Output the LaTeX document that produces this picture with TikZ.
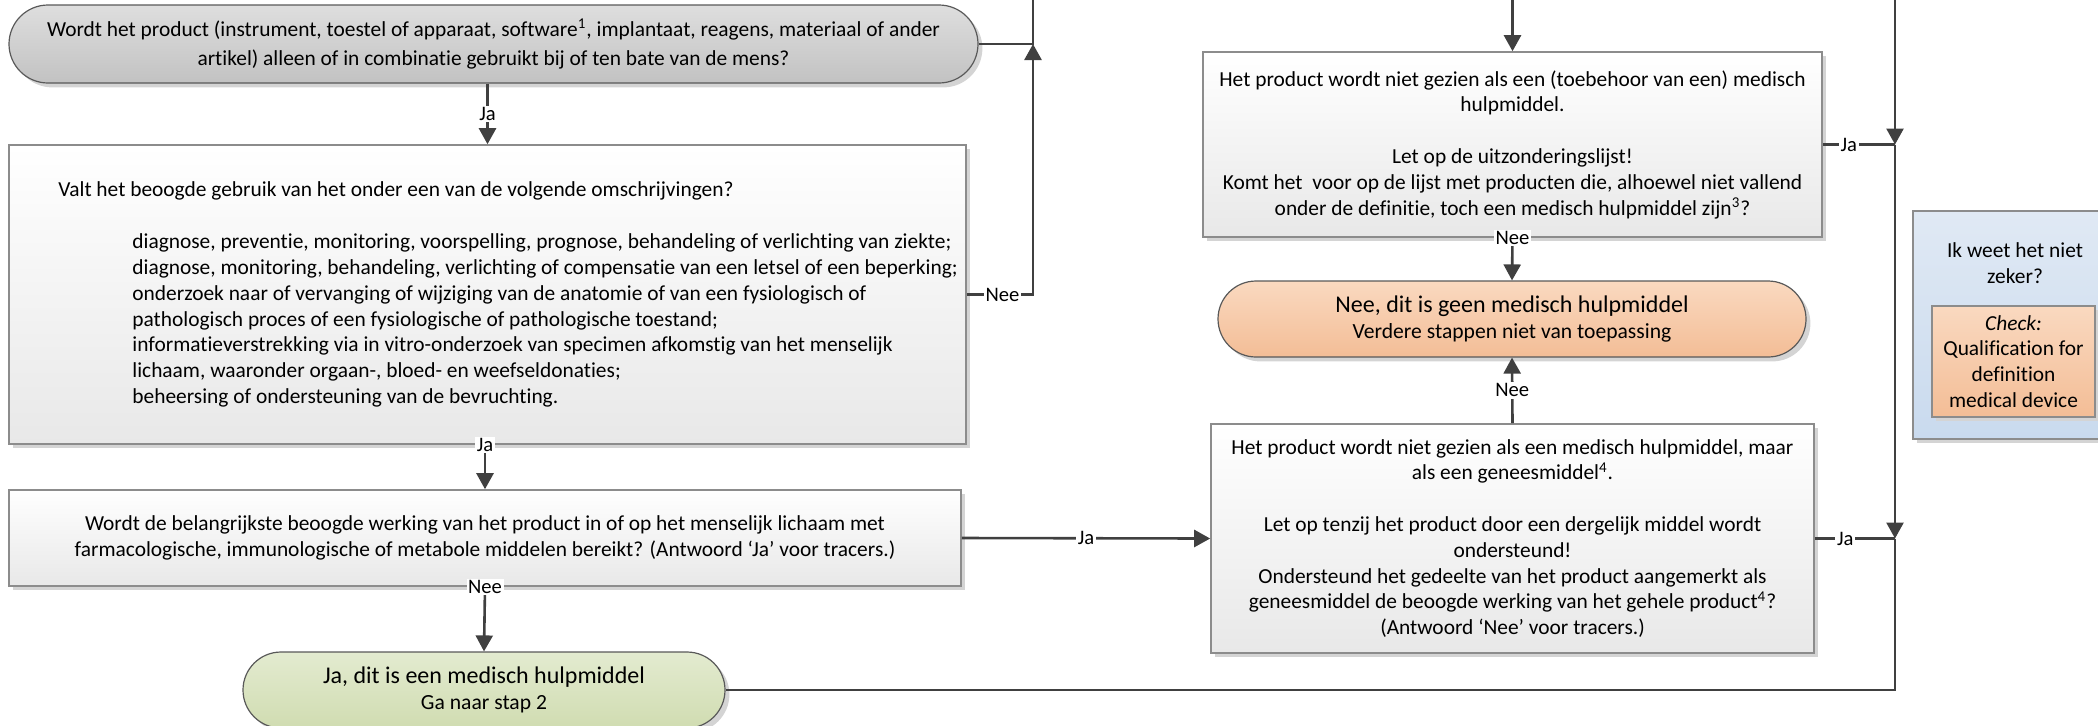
\documentclass[tikz,border=0pt]{standalone}
\usepackage{fontspec}
\setmainfont{Carlito}[Ligatures=NoCommon]
\usetikzlibrary{arrows.meta,shadows}
\definecolor{linec}{HTML}{404040}
\definecolor{boxline}{HTML}{8C8C8C}
\definecolor{termline}{HTML}{595959}
\definecolor{graytop}{HTML}{DEDEDE}
\definecolor{graybot}{HTML}{C2C2C2}
\definecolor{orgtop}{HTML}{FAD9C0}
\definecolor{orgbot}{HTML}{F3BD96}
\definecolor{grntop}{HTML}{E3EBD0}
\definecolor{grnbot}{HTML}{D0DCB1}
\definecolor{blutop}{HTML}{E0E9F4}
\definecolor{blubot}{HTML}{C9DAEE}
\definecolor{shadowc}{HTML}{D4D4D4}
\newcommand\bodyfont{\fontsize{10.7}{12.9}\selectfont}
\newcommand\subfont{\fontsize{10.8}{13}\selectfont}
\newcommand\bigfont{\fontsize{12}{14}\selectfont}
\newcommand\lblfont{\fontsize{10.3}{12}\selectfont}
\begin{document}
\begin{tikzpicture}[x=0.5pt,y=-0.5pt,
  shad/.style={drop shadow={shadow xshift=2.2pt,shadow yshift=-2.2pt,fill=shadowc,opacity=1}},
  qbox/.style={shad,draw=boxline,line width=0.8pt,top color=white,bottom color=black!9,
    align=center,inner sep=0pt,font=\bodyfont},
  term/.style={shad,draw=termline,line width=0.6pt,align=center,inner sep=0pt,
    minimum height=38pt,rounded corners=19pt},
  conn/.style={draw=linec,line width=1.3pt},
  arr/.style={-{Triangle[length=8pt,width=8.5pt]}},
  lbl/.style={fill=white,inner sep=0.8pt,text=black,font=\lblfont},
]
\useasboundingbox (0,0) rectangle (2098,725);
\clip (0,0) rectangle (2098,725);

% ---------------- nodes ----------------
\node[term,top color=graytop,bottom color=graybot,minimum width=484.5pt,minimum height=39pt,
  rounded corners=19.5pt,font=\fontsize{10.7}{14.2}\selectfont] (q1) at (493.5,44)
  {Wordt het product (instrument, toestel of apparaat, software\textsuperscript{1}, implantaat, reagens, materiaal of ander\\
   artikel) alleen of in combinatie gebruikt bij of ten bate van de mens?};

\node[qbox,minimum width=478.5pt,minimum height=149.5pt] (q2) at (487.5,294.5) {};
\node[anchor=west,align=left,inner sep=0pt,font=\bodyfont] (q2text) at (58,294.5)
  {Valt het beoogde gebruik van het onder een van de volgende omschrijvingen?\\[13pt]
   \hspace*{37pt}diagnose, preventie, monitoring, voorspelling, prognose, behandeling of verlichting van ziekte;\\
   \hspace*{37pt}diagnose, monitoring, behandeling, verlichting of compensatie van een letsel of een beperking;\\
   \hspace*{37pt}onderzoek naar of vervanging of wijziging van de anatomie of van een fysiologisch of\\
   \hspace*{37pt}pathologisch proces of een fysiologische of pathologische toestand;\\
   \hspace*{37pt}informatieverstrekking via in vitro-onderzoek van specimen afkomstig van het menselijk\\
   \hspace*{37pt}lichaam, waaronder orgaan-, bloed- en weefseldonaties;\\
   \hspace*{37pt}beheersing of ondersteuning van de bevruchting.};

\node[qbox,minimum width=476pt,minimum height=48pt] (q3) at (485,538)
  {Wordt de belangrijkste beoogde werking van het product in of op het menselijk lichaam met\\
   farmacologische, immunologische of metabole middelen bereikt? (Antwoord ‘Ja’ voor tracers.)};

\node[term,top color=grntop,bottom color=grnbot,minimum width=241pt] (ja) at (484,690)
  {{\bigfont Ja, dit is een medisch hulpmiddel}\\[1pt]{\subfont Ga naar stap 2}};

\node[qbox,minimum width=309.5pt,minimum height=92.5pt] (q4) at (1512.5,144.5)
  {Het product wordt niet gezien als een (toebehoor van een) medisch\\
   hulpmiddel.\\[12.9pt]
   Let op de uitzonderingslijst!\\
   Komt het\ \ voor op de lijst met producten die, alhoewel niet vallend\\
   onder de definitie, toch een medisch hulpmiddel zijn\textsuperscript{3}?};

\node[term,top color=orgtop,bottom color=orgbot,minimum width=294pt] (nee) at (1512,319)
  {{\bigfont Nee, dit is geen medisch hulpmiddel}\\[1pt]{\subfont Verdere stappen niet van toepassing}};

\node[qbox,minimum width=301.5pt,minimum height=114.5pt] (q5) at (1512.5,538.5)
  {Het product wordt niet gezien als een medisch hulpmiddel, maar\\
   als een geneesmiddel\textsuperscript{4}.\\[12.9pt]
   Let op tenzij het product door een dergelijk middel wordt\\
   ondersteund!\\
   Ondersteund het gedeelte van het product aangemerkt als\\
   geneesmiddel de beoogde werking van het gehele product\textsuperscript{4}?\\
   (Antwoord ‘Nee’ voor tracers.)};

\node[shad,draw=boxline,line width=0.8pt,top color=blutop,bottom color=blubot,
  minimum width=104pt,minimum height=114pt,inner sep=0pt] (info) at (2017,325) {};
\node[align=center,inner sep=0pt,font=\bodyfont] (infotext) at (2015,263)
  {Ik weet het niet\\zeker?};
\node[shad,draw=boxline,line width=0.8pt,top color=orgtop,bottom color=orgbot,
  minimum width=81.5pt,minimum height=55.5pt,inner sep=0pt,align=center,font=\bodyfont] (check) at (2013.5,361.5)
  {\textit{Check:}\\Qualification for\\definition\\medical device};

% ---------------- junction coordinates ----------------
\coordinate (jl1) at (1033,44);
\coordinate (jl2) at (1033,294.5);
\coordinate (tl) at (1033,0);
\coordinate (tm) at (1512.5,0);
\coordinate (tr) at (1895,0);
\coordinate (jr1) at (1895,144.5);
\coordinate (jr2) at (1895,538.5);

% ---------------- connectors ----------------
\draw[conn,arr] (q1.south -| q2.north) -- node[lbl] (l1) {Ja} (q2.north);
\draw[conn,arr] (q2.south -| q3.north) -- node[lbl,pos=0] (l2) {Ja} (q3.north);
\draw[conn,arr] (q3.south) -- node[lbl,pos=0] (l3) {Nee} (ja.north);
\draw[conn,arr] (q3.east) -- node[lbl] (l4) {Ja} (q5.west);
\draw[conn,arr] (q2.east) -- node[lbl,pos=0.54] (l5) {Nee} (jl2) -- (jl1);
\draw[conn] (q1.east) -- (jl1) -- (tl);
\draw[conn,arr] (tm) -- (q4.north);
\draw[conn,arr] (q4.south) -- node[lbl,pos=0] (l6) {Nee} (nee.north);
\draw[conn,arr] (q5.north) -- node[lbl] (l7) {Nee} (nee.south);
\draw[conn] (q4.east) -- node[lbl,pos=0.36] (l8) {Ja} (jr1);
\draw[conn] (q5.east) -- node[lbl,pos=0.38] (l9) {Ja} (jr2);
\draw[conn,arr] (tr) -- (jr1);
\draw[conn,arr] (jr1) -- (jr2);
\draw[conn] (jr2) |- (ja.east);
\end{tikzpicture}
\end{document}
